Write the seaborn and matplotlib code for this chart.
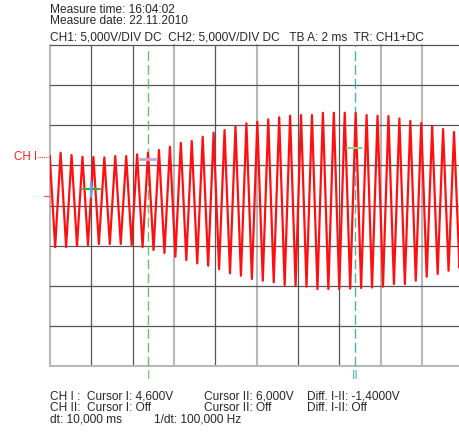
import numpy as np
import pandas as pd
import matplotlib
matplotlib.use("Agg")
import matplotlib.pyplot as plt
import seaborn as sns
from matplotlib.transforms import blended_transform_factory

# ---------------- data ----------------
# CH1 trace: successive extremes (peak, trough, peak, ...) in volts
peak_v = [5.1, 5.40, 5.11, 4.90, 4.86, 4.82, 4.98, 4.98, 5.20, 5.40, 5.73, 6.14,
          6.64, 6.85, 7.39, 7.89, 8.22, 8.64, 9.06, 9.26, 9.56, 9.81, 10.01,
          10.09, 10.09, 10.38, 10.38, 10.38, 10.38, 10.09, 10.01, 9.97, 9.66,
          9.35, 9.10, 8.72, 8.35, 7.98, 7.73]
trough_v = [-6.36, -6.36, -6.23, -6.11, -5.98, -5.98, -5.98, -6.11, -6.36, -6.73,
            -7.10, -7.56, -7.98, -8.39, -8.69, -9.10, -9.63, -9.93, -10.34,
            -10.55, -10.75, -11.09, -11.18, -11.30, -11.59, -11.59, -11.59,
            -11.53, -11.46, -11.40, -11.30, -10.97, -10.97, -10.55, -10.06,
            -9.72, -9.31, -8.97]
t_start_ms = -0.0145          # time of first extreme
half_period_ms = 0.2644       # spacing of extremes (scope time base)

header_lines = ["Measure time: 16:04:02", "Measure date: 22.11.2010"]
settings_line = "CH1: 5,000V/DIV DC  CH2: 5,000V/DIV DC   TB A: 2 ms  TR: CH1+DC"
cursor_t = [4.75, 14.75]
cursor_names = ["I", "II"]
cursor_v = [4.6, 6.0]
trig_t, trig_v = 2.0, 0.83
ch_marker_v = 4.86
bottom_rows = [
    ["CH I :  Cursor I: 4,600V", "Cursor II: 6,000V", "Diff. I-II: -1,4000V"],
    ["CH II:  Cursor I: Off", "Cursor II: Off", "Diff. I-II: Off"],
]
dt_texts = ["dt: 10,000 ms", "1/dt: 100,000 Hz"]

# ---------------- build trace ----------------
vals = []
for p, tr in zip(peak_v, trough_v):
    vals += [p, tr]
vals.append(peak_v[-1])
t = t_start_ms + np.arange(len(vals)) * half_period_ms
df = pd.DataFrame({"t": t, "v": vals})

# ---------------- figure ----------------
sns.set_style("white")
plt.rcParams["font.family"] = ["Liberation Sans", "DejaVu Sans"]
W, H = 459, 432
fig = plt.figure(figsize=(W / 100, H / 100), dpi=100)
px = lambda x: x / W
py = lambda y: 1 - y / H
ax_l, ax_r, ax_t, ax_b = 50, 463.3, 45, 366
ax = fig.add_axes([px(ax_l), py(ax_b), (ax_r - ax_l) / W, (ax_b - ax_t) / H])
for s in ax.spines.values():
    s.set_visible(False)
ax.set_xticks([]); ax.set_yticks([])
ax.set_xlim(0, 20)
ground_off = 1.18
ax.set_ylim(-20 - ground_off, 20 - ground_off)

dark, light = "#565656", "#b8b8b8"
vstyle = {0: light, 3: light, 5: light, 8: light, 9: light}
for k in range(11):
    ax.axvline(2 * k, color=vstyle.get(k, dark), lw=1.5 if k in vstyle else 0.9,
               clip_on=False, zorder=1)
for k in range(9):
    c = light if k == 8 else dark
    ax.axhline(20 - ground_off - 5 * k, color=c, lw=1.5 if k == 8 else 0.9,
               clip_on=False, zorder=1)

# cursors
cur_cols = ["#6cc06c", "#4cb0b0"]
for ct, col, nm in zip(cursor_t, cur_cols, cursor_names):
    ax.axvline(ct, color=col, lw=1.0, dashes=(7, 3), zorder=2)
    ax.text(ct, -20 - ground_off - 10 / 8.025, nm, color=col, ha="center",
            va="center", fontsize=8.6, clip_on=False)

sns.lineplot(data=df, x="t", y="v", ax=ax, color="#ff1010", lw=1.6,
             sort=False, estimator=None, zorder=3)
ax.set_xlabel(""); ax.set_ylabel("")

# cursor value markers
ax.plot([cursor_t[0] - 0.45, cursor_t[0] + 0.4], [cursor_v[0]] * 2,
        color="#c8a2d6", lw=2, zorder=4)
ax.plot([cursor_t[1] - 0.37, cursor_t[1] + 0.37], [cursor_v[1]] * 2,
        color="#8fd08f", lw=1.5, zorder=4)
# trigger cross
ax.plot([trig_t - 0.42, trig_t + 0.42], [trig_v] * 2, color="#3caa3c", lw=1.5, zorder=4)
ax.plot([trig_t, trig_t], [trig_v + 0.9, trig_v - 0.95], color="#5aa6ee", lw=1.5, zorder=4)

# left channel markers
bt = blended_transform_factory(fig.transFigure, ax.transData)
ax.text(px(14), ch_marker_v, "CH I", color="#ff2020", fontsize=8.3, va="center",
        ha="left", transform=bt)
ax.plot([px(37), px(50)], [ch_marker_v] * 2, color="#ff4040", lw=0.8,
        ls=(0, (1, 1)), transform=bt, clip_on=False)
ax.plot([px(44), px(49)], [0, 0], color="#ff6060", lw=1.0, transform=bt,
        clip_on=False)

# header texts
fs = 8.6
fig.text(px(50), py(10.2), header_lines[0], fontsize=fs, va="center", ha="left")
fig.text(px(50), py(20.8), header_lines[1], fontsize=fs, va="center", ha="left")
fig.text(px(50), py(37), settings_line, fontsize=fs, va="center", ha="left")

# bottom texts
cols_x = [50, 204, 307]
for row, yy in zip(bottom_rows, [396.5, 408]):
    for txt, xx in zip(row, cols_x):
        fig.text(px(xx), py(yy), txt, fontsize=fs, va="center", ha="left")
fig.text(px(50), py(420), dt_texts[0], fontsize=fs, va="center", ha="left")
fig.text(px(154), py(420), dt_texts[1], fontsize=fs, va="center", ha="left")

fig.savefig("out.png", dpi=100)
